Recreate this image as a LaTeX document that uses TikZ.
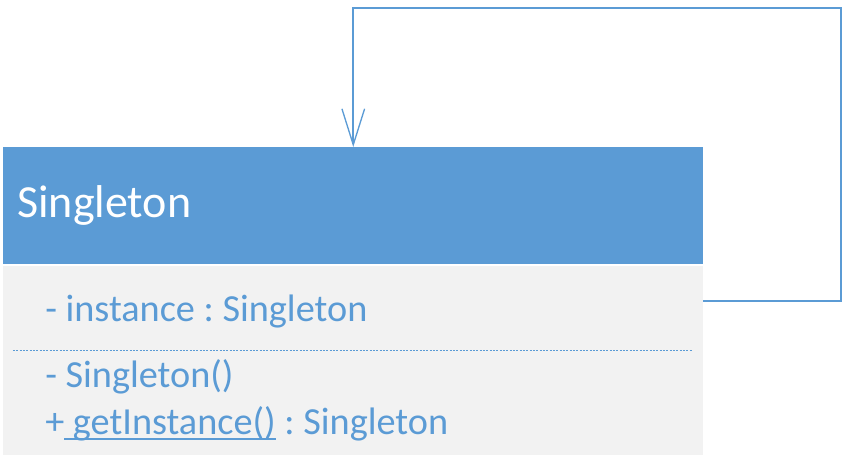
\documentclass[tikz,border=0pt]{standalone}
\usepackage{fontspec}
\setmainfont{Carlito}
\usetikzlibrary{arrows.meta,positioning}
\definecolor{umlblue}{RGB}{91,155,213}
\definecolor{umlgrey}{RGB}{242,242,242}
\tikzstyle{assoc} = [line width=1.2pt,-{Straight Barb[length=27pt,width=17pt,line width=1pt]},color=umlblue]
\newcommand\staticop[1]{\setbox0\hbox{#1}\rlap{\color{umlblue}\rule[-4pt]{\wd0}{1.5pt}}\box0\relax}
\frenchspacing

\begin{document}
\begin{tikzpicture}[
    x=0.75pt, y=-0.75pt,
    header/.style={rectangle, fill=umlblue, text=white, minimum width=525pt, minimum height=87.75pt, inner xsep=10.5pt, text width=504pt, align=left, font=\fontsize{34.5}{40}\selectfont},
    body/.style={rectangle, fill=umlgrey, minimum width=525pt, minimum height=141.75pt},
    member/.style={anchor=base west, inner sep=0pt, text=umlblue, font=\fontsize{28.7}{34}\selectfont}
]
\useasboundingbox (0,0) rectangle (851,463);

% Class box
\node[header, anchor=north west] (header) at (3,147) {Singleton};
\node[body, anchor=north west] (body) at (3,266) {};

% Members
\node[member] (attr) at (45,322) {- instance : Singleton};
\draw[umlblue, dashed, dash pattern=on 1.5pt off 1pt, line width=0.7pt] (13,350) -- (692,350);
\node[member] (ctor) at (45,388) {- Singleton()};
\node[member] (getinst) at (45,435) {+\staticop{\ getInstance()} : Singleton};

% Self association
\coordinate (loopout) at (703,301);
\coordinate (loopcorner) at (841,8);
\draw[assoc] (loopout) -| (loopcorner) -| (header.north);

\end{tikzpicture}
\end{document}
